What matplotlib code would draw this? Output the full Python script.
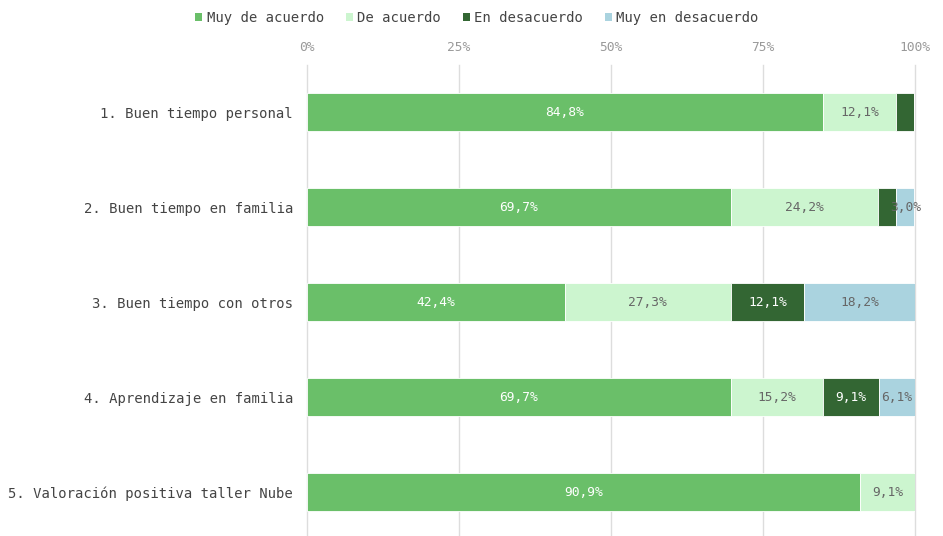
import matplotlib
matplotlib.use("Agg")
import matplotlib.pyplot as plt
from matplotlib.patches import Patch

categorias = [
    "1. Buen tiempo personal",
    "2. Buen tiempo en familia",
    "3. Buen tiempo con otros",
    "4. Aprendizaje en familia",
    "5. Valoración positiva taller Nube",
]
series = ["Muy de acuerdo", "De acuerdo", "En desacuerdo", "Muy en desacuerdo"]
muy_de_acuerdo = [84.8, 69.7, 42.4, 69.7, 90.9]
de_acuerdo = [12.1, 24.2, 27.3, 15.2, 9.1]
en_desacuerdo = [3.0, 3.0, 12.1, 9.1, 0.0]
muy_en_desacuerdo = [0.0, 3.0, 18.2, 6.1, 0.0]
ticks = [0, 25, 50, 75, 100]
tick_labels = ["0%", "25%", "50%", "75%", "100%"]

colores = ["#6abf69", "#ccf5cf", "#336633", "#aad3df"]
color_texto = ["white", "#666666", "white", "#666666"]
etiquetar = [
    [True, True, True, True, True],
    [True, True, True, True, True],
    [False, False, True, True, False],
    [False, True, True, True, False],
]

plt.rcParams["font.family"] = ["DejaVu Sans Mono"]

fig = plt.figure(figsize=(9.43, 5.36), dpi=100)
ax = fig.add_axes([307 / 943, 0, 608 / 943, 1 - 65 / 536])

valores = [muy_de_acuerdo, de_acuerdo, en_desacuerdo, muy_en_desacuerdo]
y = list(range(len(categorias)))
izq = [0.0] * len(categorias)
for s, vals in enumerate(valores):
    ax.barh(y, vals, left=izq, height=0.4, color=colores[s], edgecolor="white",
            linewidth=0.6, zorder=2)
    for i, v in enumerate(vals):
        if v > 0 and etiquetar[s][i]:
            ax.text(izq[i] + v / 2, i, f"{v:.1f}%".replace(".", ","),
                    ha="center", va="center", fontsize=9.3,
                    color=color_texto[s], zorder=3)
    izq = [a + b for a, b in zip(izq, vals)]

ax.set_xlim(0, 100)
ax.set_ylim(len(categorias) - 1 + 0.463, -0.495)
ax.set_yticks(y)
ax.set_yticklabels(categorias, fontsize=10, color="#444444")
ax.set_xticks(ticks)
ax.set_xticklabels(tick_labels, fontsize=9.3, color="#999999")
ax.xaxis.tick_top()
ax.tick_params(axis="both", length=0)
ax.tick_params(axis="x", pad=8)
ax.tick_params(axis="y", pad=10)
ax.grid(axis="x", color="#dddddd", linewidth=1, zorder=0)
for linea in ax.get_xgridlines():
    linea.set_clip_on(False)
for sp in ax.spines.values():
    sp.set_visible(False)

handles = [Patch(facecolor=c, label=l) for c, l in zip(colores, series)]
fig.legend(handles=handles, loc="upper center", bbox_to_anchor=(0.506, 1.003),
           ncol=4, frameon=False, fontsize=10, handlelength=0.5,
           handleheight=0.5, handletextpad=0.3, columnspacing=1.6,
           labelcolor="#444444")

fig.savefig("out.png", dpi=100)
